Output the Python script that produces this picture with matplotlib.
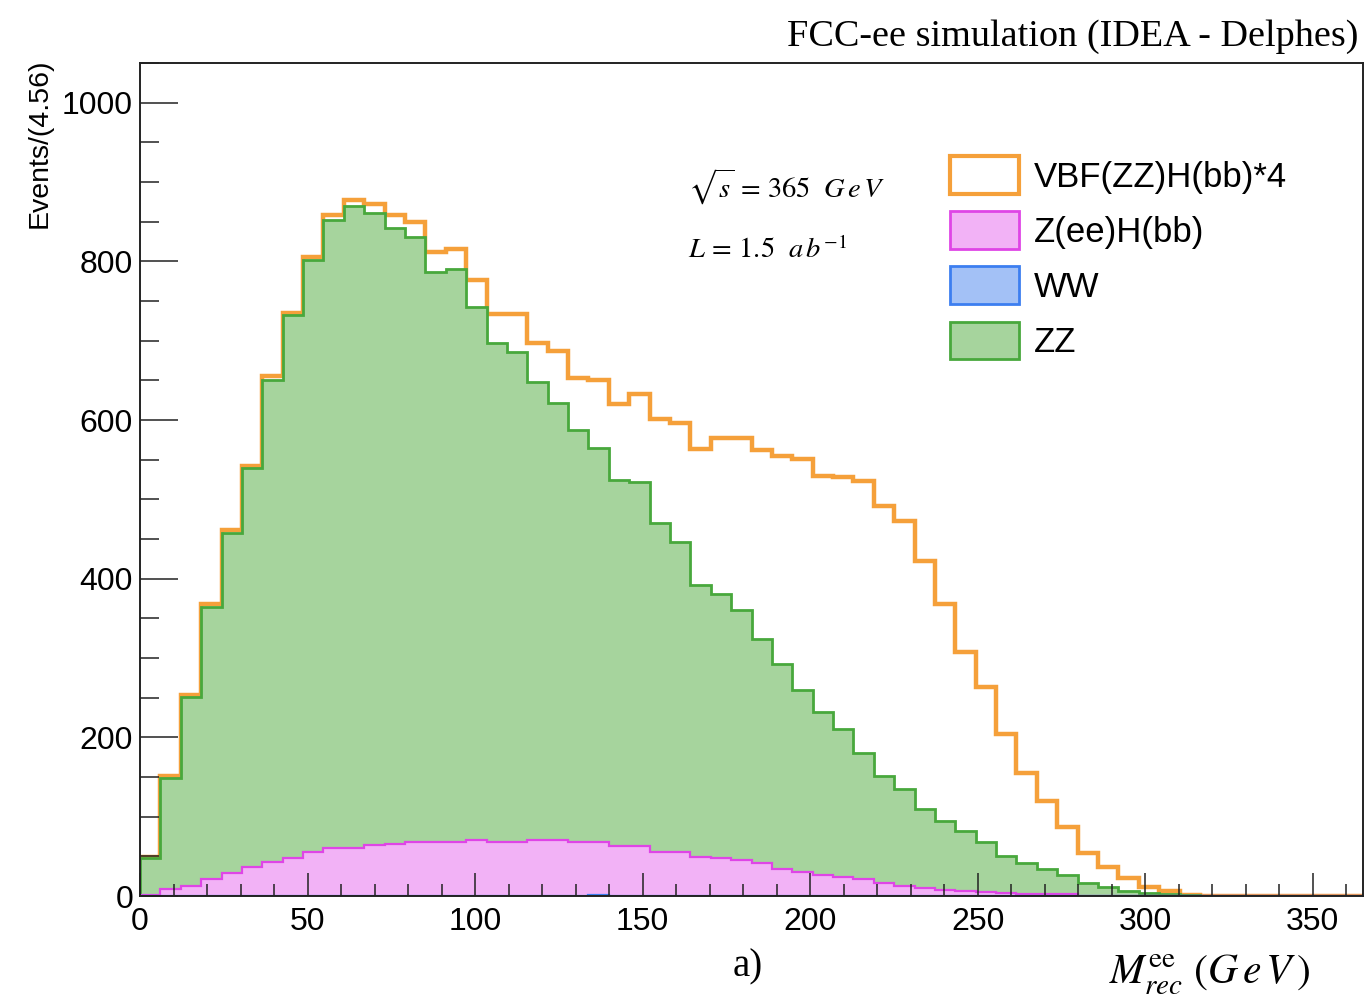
import numpy as np
import matplotlib.pyplot as plt
from matplotlib.patches import Patch
from matplotlib.ticker import MultipleLocator

plt.rcParams['font.family'] = ['Liberation Sans', 'DejaVu Sans']
plt.rcParams['mathtext.fontset'] = 'stix'

# 60 bins from 0 to 365 GeV
edges = np.linspace(0, 365, 61)

# per-process contents (stack order bottom -> top: WW, ZH, ZZ, VBF*4)
ww = [0] * 22 + [1] + [0] * 37
zh = [1, 9, 12, 21, 29, 36, 43, 48, 55, 60,
      60, 64, 66, 68, 68, 68, 71, 68, 68, 71,
      71, 68, 67, 63, 63, 55, 55, 49, 48, 45,
      42, 34, 30, 27, 24, 21, 17, 13, 10, 8,
      6, 5, 4, 3, 3, 2, 0, 0, 0, 0,
      0, 0, 0, 0, 0, 0, 0, 0, 0, 0]
zz = [47, 140, 239, 343, 429, 503, 608, 684, 747, 792,
      810, 797, 776, 763, 719, 722, 671, 629, 618, 577,
      551, 519, 497, 461, 459, 415, 391, 343, 333, 315,
      282, 259, 230, 205, 186, 159, 134, 122, 100, 86,
      76, 63, 47, 39, 31, 24, 17, 11, 6, 4,
      2, 1, 0, 0, 0, 0, 0, 0, 0, 0]
vbf4 = [1, 2, 2, 4, 3, 3, 4, 3, 4, 6,
        7, 11, 16, 19, 25, 26, 35, 36, 47, 49,
        65, 66, 86, 96, 111, 131, 150, 172, 196, 217,
        238, 262, 291, 298, 318, 343, 340, 338, 312, 274,
        226, 196, 153, 113, 86, 61, 37, 26, 17, 7,
        4, 0, 0, 0, 0, 0, 0, 0, 0, 0]

lvl_ww = np.array(ww, dtype=float)
lvl_zh = lvl_ww + np.array(zh)
lvl_zz = lvl_zh + np.array(zz)
lvl_all = lvl_zz + np.array(vbf4)

orange = '#f5a03a'
green_fill, green_line = '#a6d49d', '#48a83c'
pink_fill, pink_line = '#f2b2f6', '#df45e6'
blue_fill, blue_line = '#a3c1f6', '#3c7ef0'

fig = plt.figure(figsize=(13.67, 9.97), dpi=100)
ax = fig.add_axes([140 / 1367, 101 / 997, 1223 / 1367, 833 / 997])

# draw like ROOT's THStack: total first, lower sums painted over it
# (zorders kept below the axis so the ticks stay visible over the fills)
ax.stairs(lvl_all, edges, color=orange, lw=3.2, zorder=1.1)
ax.stairs(lvl_zz, edges, fill=True, color=green_fill, zorder=1.2)
ax.stairs(lvl_zz, edges, color=green_line, lw=2, zorder=1.2)
ax.stairs(lvl_zh, edges, fill=True, color=pink_fill, zorder=1.3)
ax.stairs(lvl_zh, edges, color=pink_line, lw=1.6, zorder=1.3)
ax.stairs(lvl_ww, edges, fill=True, color=blue_fill, zorder=1.4)
ax.stairs(lvl_ww, edges, color=blue_line, lw=1.6, zorder=1.4)

ax.set_xlim(0, 365)
ax.set_ylim(0, 1050)

ax.xaxis.set_major_locator(MultipleLocator(50))
ax.xaxis.set_minor_locator(MultipleLocator(10))
ax.yaxis.set_major_locator(MultipleLocator(200))
ax.yaxis.set_minor_locator(MultipleLocator(50))
ax.tick_params(axis='both', which='both', direction='in', width=1.1,
               color='#222222', labelsize=23, top=False, right=False)
ax.tick_params(axis='y', which='major', length=27, pad=5)
ax.tick_params(axis='y', which='minor', length=13.5)
ax.tick_params(axis='x', which='major', length=16.5, pad=8)
ax.tick_params(axis='x', which='minor', length=8.5)
for sp in ax.spines.values():
    sp.set_linewidth(1.4)
    sp.set_color('#222222')

fig.text(1358 / 1367, 1 - 37 / 997, 'FCC-ee simulation (IDEA - Delphes)',
         family='Liberation Serif', fontsize=27.5, ha='right', va='center')
fig.text(40 / 1367, 1 - 58 / 997, 'Events/(4.56)', rotation=90,
         fontsize=20.5, ha='center', va='top')
fig.text(748 / 1367, 1 - 967 / 997, 'a)', family='Liberation Serif',
         fontsize=28, ha='center', va='center')
fig.text(1310 / 1367, 1 - 984 / 997, r'$M_{rec}^{\mathrm{ee}}\ (G\,e\,V\,)$',
         fontsize=30, ha='right', va='baseline')

ax.text(688 / 1367, 1 - 187 / 997, r'$\sqrt{s}\,=\,365\ \ G\,e\,V$',
        transform=fig.transFigure, fontsize=20.5, ha='left', va='center')
ax.text(688 / 1367, 1 - 250 / 997, r'$L\,=\,1.5\ \ a\,b^{-1}$',
        transform=fig.transFigure, fontsize=20.5, ha='left', va='center')

handles = [Patch(facecolor='white', edgecolor=orange, lw=3),
           Patch(facecolor=pink_fill, edgecolor=pink_line, lw=2),
           Patch(facecolor=blue_fill, edgecolor=blue_line, lw=2),
           Patch(facecolor=green_fill, edgecolor=green_line, lw=2)]
labels = ['VBF(ZZ)H(bb)*4', 'Z(ee)H(bb)', 'WW', 'ZZ']
ax.legend(handles, labels, loc='upper left',
          bbox_to_anchor=((950 - 140) / 1223, (896 - 156) / 833),
          frameon=False, fontsize=25, borderpad=0, borderaxespad=0,
          handlelength=2.0, handleheight=1.3, handletextpad=0.42,
          labelspacing=0.5)

fig.savefig('out.png', dpi=100)
